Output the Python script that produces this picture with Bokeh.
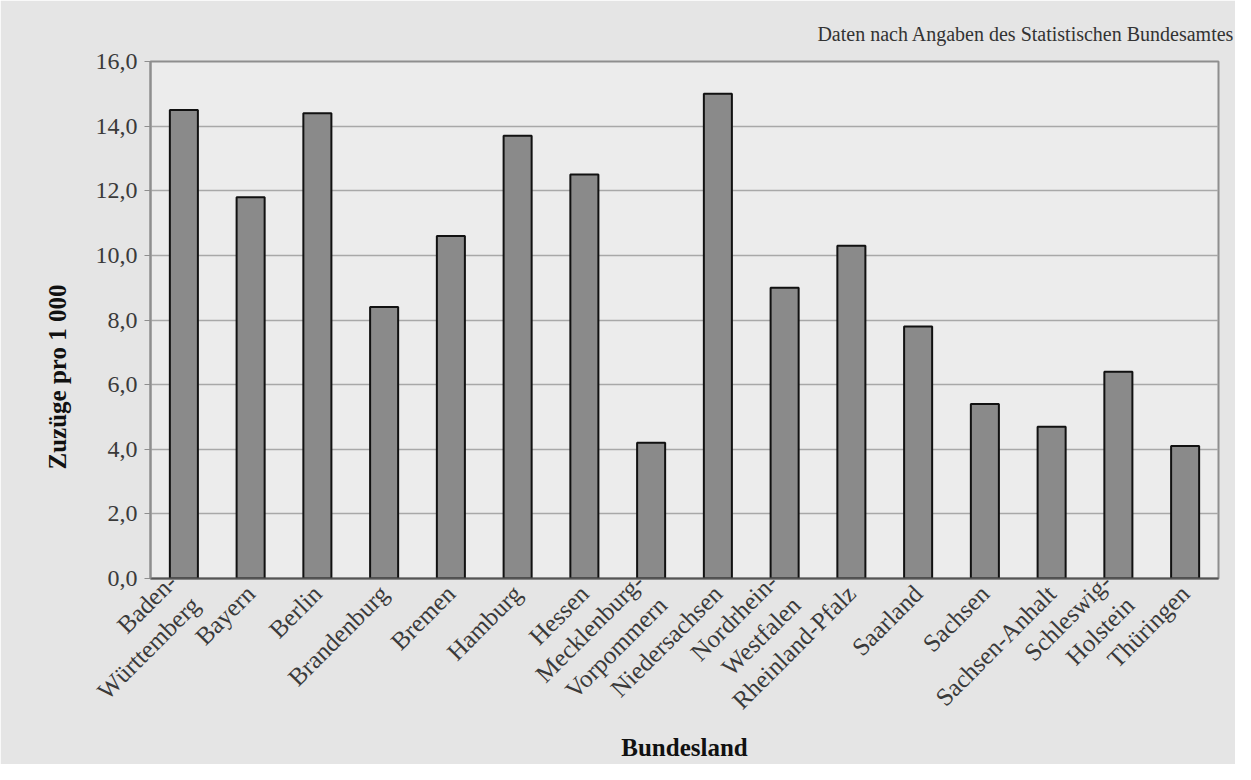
from math import pi
from bokeh.plotting import figure
from bokeh.models import FactorRange, Range1d, FixedTicker, Title, ColumnDataSource
from bokeh.embed import file_html
from bokeh.resources import INLINE

bundeslaender = ["Baden-\nWürttemberg", "Bayern", "Berlin", "Brandenburg", "Bremen",
                 "Hamburg", "Hessen", "Mecklenburg-\nVorpommern", "Niedersachsen",
                 "Nordrhein-\nWestfalen", "Rheinland-Pfalz", "Saarland", "Sachsen",
                 "Sachsen-Anhalt", "Schleswig-\nHolstein", "Thüringen"]
zuzuege = [14.5, 11.8, 14.4, 8.4, 10.6, 13.7, 12.5, 4.2, 15.0, 9.0, 10.3, 7.8, 5.4, 4.7, 6.4, 4.1]
y_ticks = [0, 2, 4, 6, 8, 10, 12, 14, 16]
y_tick_labels = ["0,0", "2,0", "4,0", "6,0", "8,0", "10,0", "12,0", "14,0", "16,0"]
x_title = "Bundesland"
y_title = "Zuzüge pro 1 000"
source_note = "Daten nach Angaben des Statistischen Bundesamtes"

FONT = "Liberation Serif"

src = ColumnDataSource(data=dict(land=bundeslaender, wert=zuzuege))

p = figure(x_range=FactorRange(*bundeslaender, range_padding=0), y_range=Range1d(0, 16),
           width=1235, height=764, output_backend="svg", toolbar_location=None,
           min_border_left=150, min_border_right=17, min_border_top=61, min_border_bottom=186)

p.border_fill_color = "#e5e5e5"
p.background_fill_color = "#ececec"
p.outline_line_color = "#8e8e8e"
p.outline_line_width = 2

p.vbar(x="land", top="wert", width=0.42, source=src,
       fill_color="#8a8a8a", line_color="#111111", line_width=2)

p.xgrid.grid_line_color = None
p.ygrid.grid_line_color = "#a8a8a8"
p.ygrid.grid_line_width = 1.5
p.yaxis.ticker = FixedTicker(ticks=y_ticks)
p.yaxis.major_label_overrides = {t: l for t, l in zip(y_ticks, y_tick_labels)}
p.yaxis.major_label_text_font = FONT
p.yaxis.major_label_text_font_size = "24px"
p.yaxis.major_label_text_color = "#3a3a3a"
p.yaxis.axis_line_color = "#8e8e8e"
p.yaxis.axis_line_width = 2
p.yaxis.major_tick_line_color = "#8e8e8e"
p.yaxis.major_tick_in = 0
p.yaxis.major_tick_out = 6
p.yaxis.minor_tick_line_color = None
p.yaxis.major_label_standoff = 7

p.xaxis.major_label_orientation = pi / 4
p.xaxis.major_label_text_font = FONT
p.xaxis.major_label_text_font_size = "25px"
p.xaxis.major_label_text_color = "#3a3a3a"
p.xaxis.axis_line_color = "#555555"
p.xaxis.axis_line_width = 2
p.xaxis.major_tick_line_color = None
p.xaxis.major_label_standoff = 5
p.xaxis.axis_label = x_title
p.xaxis.axis_label_text_font = FONT
p.xaxis.axis_label_text_font_size = "25px"
p.xaxis.axis_label_text_font_style = "bold"
p.xaxis.axis_label_text_color = "#111111"
p.xaxis.axis_label_standoff = 0

p.title.text = source_note
p.title.align = "right"
p.title.offset = -16
p.title.standoff = 34
p.title.text_font = FONT
p.title.text_font_size = "20px"
p.title.text_font_style = "normal"
p.title.text_color = "#333333"

p.add_layout(Title(text=y_title, align="left", offset=109, standoff=43,
                   text_font=FONT, text_font_size="25px", text_font_style="bold",
                   text_color="#111111"), "left")

open("out.html", "w").write(file_html(p, INLINE))
